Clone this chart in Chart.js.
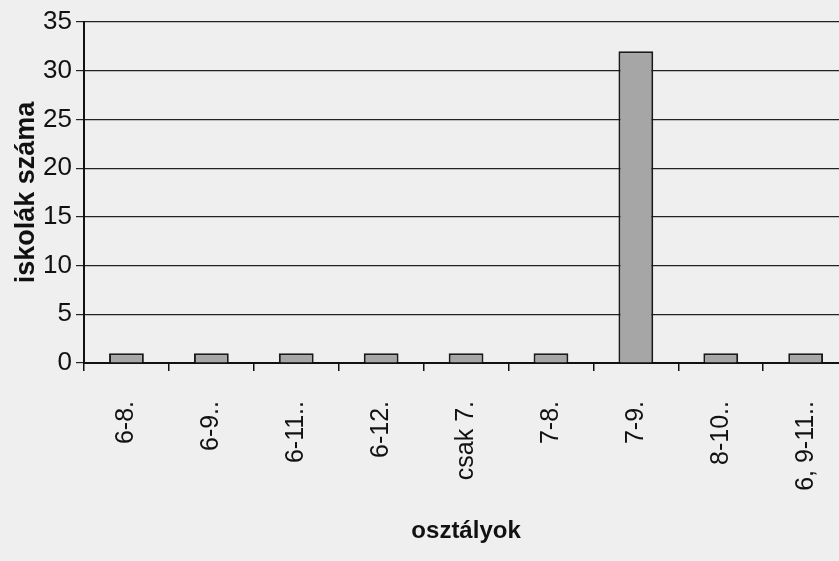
<!DOCTYPE html>
<html>
<head>
<meta charset="utf-8">
<script src="https://cdn.jsdelivr.net/npm/chart.js@4/dist/chart.umd.min.js"></script>
<style>
  html, body { margin: 0; padding: 0; overflow: hidden; background: #efefef; }
  #wrap { position: absolute; left: 0; top: 0; width: 866px; height: 561px; }
</style>
</head>
<body>
<div id="wrap"><canvas id="c"></canvas></div>
<script>
const categories = ["6-8.", "6-9..", "6-11..", "6-12.", "csak 7.", "7-8.", "7-9.", "8-10..", "6, 9-11.."];
const schoolCounts = [1, 1, 1, 1, 1, 1, 32, 1, 1];
const yTicks = [0, 5, 10, 15, 20, 25, 30, 35];
const xTitle = "osztályok";
const yTitle = "iskolák száma";

const ink = '#111111';

new Chart(document.getElementById('c'), {
  type: 'bar',
  data: {
    labels: categories,
    datasets: [{
      data: schoolCounts,
      backgroundColor: '#a6a6a6',
      borderColor: '#1a1a1a',
      borderWidth: 2,
      borderSkipped: 'bottom',
      categoryPercentage: 1.0,
      barPercentage: 0.41
    }]
  },
  options: {
    responsive: true,
    maintainAspectRatio: false,
    animation: false,
    layout: { padding: { top: 22, right: 6, bottom: 0, left: 0 } },
    plugins: { legend: { display: false }, tooltip: { enabled: false } },
    scales: {
      x: {
        offset: true,
        grid: { drawOnChartArea: false, offset: true, tickLength: 8, color: ink, lineWidth: 1.5 },
        border: { display: true, color: ink, width: 2 },
        ticks: {
          autoSkip: false, minRotation: 90, maxRotation: 90,
          padding: 30, color: ink,
          font: { family: "'Liberation Sans', Arial, sans-serif", size: 25 }
        },
        title: {
          display: true, text: xTitle, color: ink,
          font: { family: "'Liberation Sans', Arial, sans-serif", size: 24, weight: 'bold' },
          padding: { top: 0, bottom: 15 }
        },
        afterFit: (s) => { s.height = 198; }
      },
      y: {
        min: 0, max: 35,
        afterBuildTicks: (s) => { s.ticks = yTicks.map(v => ({ value: v })); },
        grid: { color: '#222222', lineWidth: 1.2, tickLength: 8 },
        border: { display: true, color: ink, width: 2 },
        ticks: {
          padding: 4, color: ink,
          font: { family: "'Liberation Sans', Arial, sans-serif", size: 26 }
        },
        title: {
          display: true, text: yTitle, color: ink,
          font: { family: "'Liberation Sans', Arial, sans-serif", size: 27, weight: 'bold' },
          padding: { top: 10, bottom: 0 }
        },
        afterFit: (s) => { s.width = 84; }
      }
    }
  }
});
</script>
</body>
</html>
